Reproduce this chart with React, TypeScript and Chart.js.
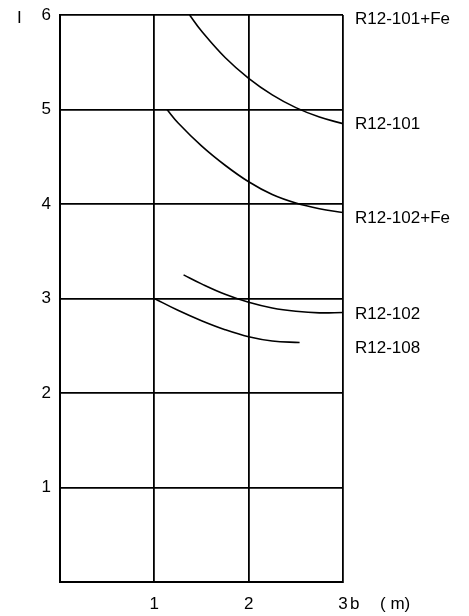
import React, { useEffect, useRef } from "react";
import { Chart, registerables } from "chart.js";

Chart.register(...registerables);

const xTickValues = [0, 1, 2, 3];
const yTickValues = [0, 1, 2, 3, 4, 5, 6];

const curveNames = ["R12-101+Fe", "R12-101", "R12-102+Fe", "R12-108"];
const curve101Fe = [
  { x: 1.374, y: 6.0 },
  { x: 1.5, y: 5.83 },
  { x: 1.75, y: 5.55 },
  { x: 2.0, y: 5.33 },
  { x: 2.25, y: 5.155 },
  { x: 2.5, y: 5.02 },
  { x: 2.75, y: 4.92 },
  { x: 3.0, y: 4.85 },
];
const curve101 = [
  { x: 1.134, y: 5.0 },
  { x: 1.25, y: 4.86 },
  { x: 1.5, y: 4.615 },
  { x: 1.75, y: 4.41 },
  { x: 2.0, y: 4.235 },
  { x: 2.25, y: 4.1 },
  { x: 2.5, y: 4.01 },
  { x: 2.75, y: 3.95 },
  { x: 3.0, y: 3.91 },
];
const curve102Fe = [
  { x: 1.31, y: 3.25 },
  { x: 1.5, y: 3.155 },
  { x: 1.75, y: 3.045 },
  { x: 2.0, y: 2.96 },
  { x: 2.25, y: 2.9 },
  { x: 2.5, y: 2.865 },
  { x: 2.75, y: 2.848 },
  { x: 3.0, y: 2.852 },
];
const curve108 = [
  { x: 1.0, y: 3.0 },
  { x: 1.25, y: 2.875 },
  { x: 1.5, y: 2.765 },
  { x: 1.75, y: 2.67 },
  { x: 2.0, y: 2.595 },
  { x: 2.25, y: 2.55 },
  { x: 2.54, y: 2.535 },
];

const sideLabels = ["R12-101+Fe", "R12-101", "R12-102+Fe", "R12-102", "R12-108"];
const sideLabelY = [5.955, 4.845, 3.845, 2.835, 2.475];

const yTitle = "I";
const xTitle = "b";
const xUnit = "( m)";

const FONT = "'Liberation Sans', Arial, sans-serif";

export default function App() {
  const ref = useRef<HTMLCanvasElement | null>(null);

  useEffect(() => {
    if (!ref.current) return;
    const textPlugin = {
      id: "texts",
      afterDraw(chart: any) {
        const ctx = chart.ctx;
        const xs = chart.scales.x;
        const ys = chart.scales.y;
        ctx.save();
        ctx.fillStyle = "#000";
        ctx.font = `17px ${FONT}`;
        ctx.textBaseline = "middle";
        ctx.textAlign = "left";
        const lx = xs.getPixelForValue(3) + 12;
        sideLabels.forEach((t, i) => {
          ctx.fillText(t, lx, ys.getPixelForValue(sideLabelY[i]));
        });
        const ty = ys.getPixelForValue(6) + 3;
        ctx.fillText(yTitle, 17, ty);
        const by = chart.chartArea.bottom + 22;
        ctx.fillText(xTitle, xs.getPixelForValue(3) + 7, by);
        ctx.fillText(xUnit, xs.getPixelForValue(3) + 37, by);
        ctx.restore();
      },
    };

    const mk = (label: string, data: any[]) => ({
      label,
      data,
      borderColor: "#000",
      borderWidth: 1.6,
      pointRadius: 0,
      fill: false,
      tension: 0.4,
    });

    const chart = new Chart(ref.current, {
      type: "line",
      data: {
        datasets: [
          mk(curveNames[0], curve101Fe),
          mk(curveNames[1], curve101),
          mk(curveNames[2], curve102Fe),
          mk(curveNames[3], curve108),
        ],
      },
      options: {
        animation: false,
        responsive: false,
        maintainAspectRatio: false,
        layout: { padding: { left: 0, top: 15, right: 126, bottom: 0 } },
        plugins: { legend: { display: false }, tooltip: { enabled: false } },
        scales: {
          x: {
            type: "linear",
            min: 0,
            max: 3,
            afterFit: (s: any) => {
              s.height = 34;
              s.paddingLeft = 0;
              s.paddingRight = 0;
            },
            afterBuildTicks: (s: any) => {
              s.ticks = xTickValues.map((v) => ({ value: v }));
            },
            ticks: {
              color: "#000",
              font: { family: FONT, size: 17 },
              padding: 12,
              callback: (v: any) => (v === 0 ? "" : String(v)),
            },
            grid: { color: "#000", lineWidth: 1.8, drawTicks: false },
            border: { color: "#000", width: 2 },
          },
          y: {
            type: "linear",
            min: 0,
            max: 6,
            afterFit: (s: any) => {
              s.width = 60;
              s.paddingTop = 0;
              s.paddingBottom = 0;
            },
            afterBuildTicks: (s: any) => {
              s.ticks = yTickValues.map((v) => ({ value: v }));
            },
            ticks: {
              color: "#000",
              font: { family: FONT, size: 17 },
              padding: 9,
              callback: (v: any) => (v === 0 ? "" : String(v)),
            },
            grid: { color: "#000", lineWidth: 1.8, drawTicks: false },
            border: { color: "#000", width: 2 },
          },
        },
      },
      plugins: [textPlugin],
    });
    return () => chart.destroy();
  }, []);

  return (
    <div style={{ position: "absolute", left: 0, top: 0 }}>
      <canvas ref={ref} width={469} height={616} style={{ display: "block" }} />
    </div>
  );
}
